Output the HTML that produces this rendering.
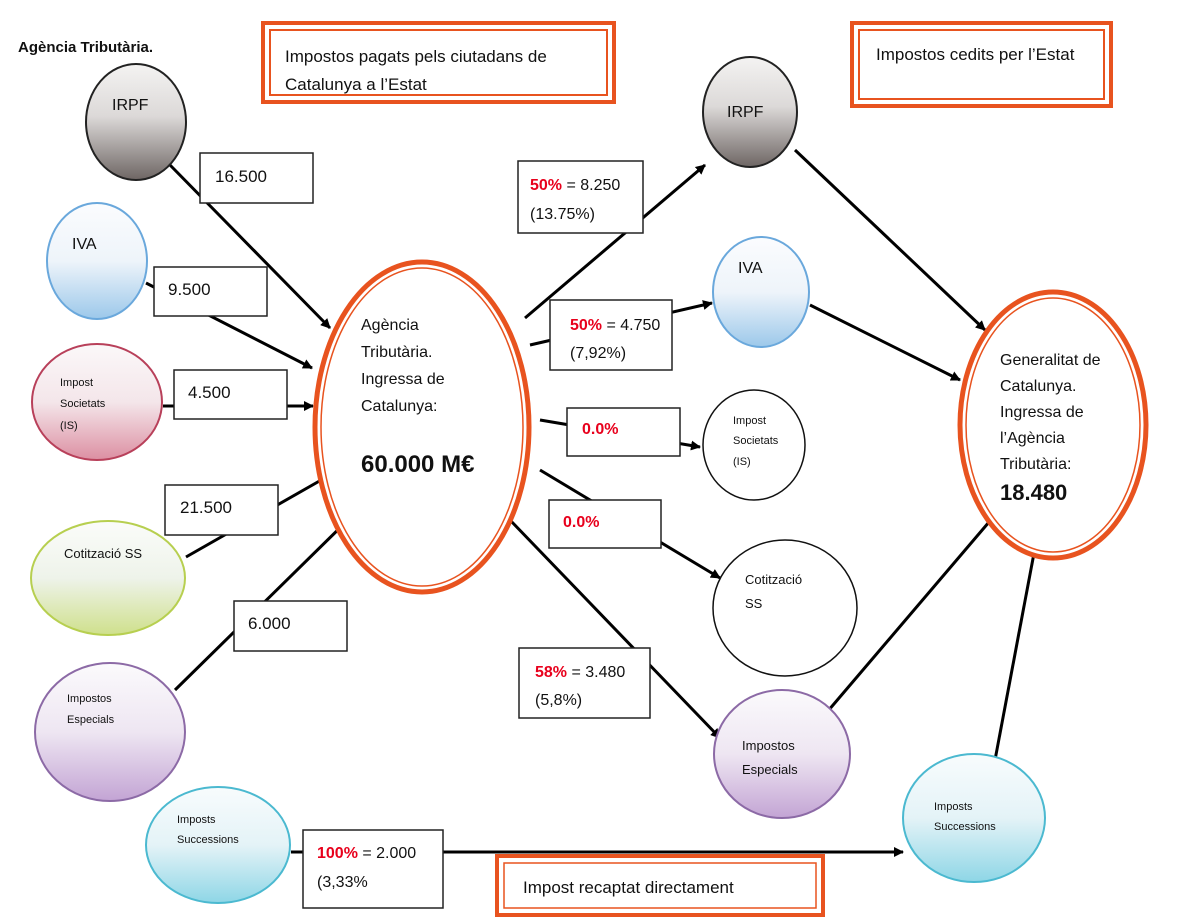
<!DOCTYPE html>
<html><head><meta charset="utf-8"><style>
body{margin:0;background:#fff}
svg{display:block}
text{font-family:"Liberation Sans","DejaVu Sans",sans-serif;fill:#111}
.r{fill:#e8001c;font-weight:bold}
</style></head><body>
<svg width="1200" height="924" viewBox="0 0 1200 924" xmlns="http://www.w3.org/2000/svg">
<defs>
<marker id="a" markerWidth="10" markerHeight="10" refX="9" refY="5" orient="auto" markerUnits="userSpaceOnUse"><path d="M0,0 L10,5 L0,10 z" fill="#000"/></marker>
<linearGradient id="gIRPF" x1="0" y1="0" x2="0" y2="1"><stop offset="0" stop-color="#f4f3f2"/><stop offset="0.45" stop-color="#dcd9d8"/><stop offset="1" stop-color="#6e6664"/></linearGradient>
<linearGradient id="gIVA" x1="0" y1="0" x2="0" y2="1"><stop offset="0" stop-color="#fbfcfe"/><stop offset="0.5" stop-color="#eef4fa"/><stop offset="1" stop-color="#9cc8ea"/></linearGradient>
<linearGradient id="gIS" x1="0" y1="0" x2="0" y2="1"><stop offset="0" stop-color="#fbf8f9"/><stop offset="0.5" stop-color="#f4e6ea"/><stop offset="1" stop-color="#dc8fa2"/></linearGradient>
<linearGradient id="gSS" x1="0" y1="0" x2="0" y2="1"><stop offset="0" stop-color="#fbfcfa"/><stop offset="0.5" stop-color="#eef3ea"/><stop offset="1" stop-color="#cfe08c"/></linearGradient>
<linearGradient id="gIE" x1="0" y1="0" x2="0" y2="1"><stop offset="0" stop-color="#fbfafc"/><stop offset="0.5" stop-color="#eee6f2"/><stop offset="1" stop-color="#c3a4d4"/></linearGradient>
<linearGradient id="gSU" x1="0" y1="0" x2="0" y2="1"><stop offset="0" stop-color="#f8fcfd"/><stop offset="0.5" stop-color="#e4f3f7"/><stop offset="1" stop-color="#8ed6e6"/></linearGradient>
</defs>

<text x="18" y="52" font-size="15" font-weight="bold">Agència Tributària.</text>

<rect x="263" y="23" width="351" height="79" fill="#fff" stroke="#e8531f" stroke-width="4"/>
<rect x="270" y="30" width="337" height="65" fill="none" stroke="#e8531f" stroke-width="2"/>
<text x="285" y="62" font-size="17">Impostos pagats pels ciutadans de</text>
<text x="285" y="90" font-size="17">Catalunya a l’Estat</text>
<rect x="852" y="23" width="259" height="83" fill="#fff" stroke="#e8531f" stroke-width="4"/>
<rect x="859" y="30" width="245" height="69" fill="none" stroke="#e8531f" stroke-width="2"/>
<text x="876" y="60" font-size="17">Impostos cedits per l’Estat</text>

<g stroke="#000" stroke-width="3" fill="none" marker-end="url(#a)">
<line x1="170" y1="165" x2="330" y2="328"/>
<line x1="146" y1="283" x2="312" y2="368"/>
<line x1="163" y1="406" x2="313" y2="406"/>
<line x1="186" y1="557" x2="330" y2="475"/>
<line x1="175" y1="690" x2="353" y2="515"/>
<line x1="525" y1="318" x2="705" y2="165"/>
<line x1="530" y1="345" x2="712" y2="303"/>
<line x1="540" y1="420" x2="700" y2="447"/>
<line x1="540" y1="470" x2="720" y2="578"/>
<line x1="510" y1="520" x2="720" y2="738"/>
<line x1="795" y1="150" x2="985" y2="330"/>
<line x1="810" y1="305" x2="960" y2="380"/>
<line x1="822" y1="718" x2="995" y2="515"/>
<line x1="995" y1="760" x2="1038" y2="532"/>
<line x1="291" y1="852" x2="903" y2="852"/>
</g>

<g stroke-width="2">
<ellipse cx="136" cy="122" rx="50" ry="58" fill="url(#gIRPF)" stroke="#222"/>
<ellipse cx="97" cy="261" rx="50" ry="58" fill="url(#gIVA)" stroke="#6aa8dc"/>
<ellipse cx="97" cy="402" rx="65" ry="58" fill="url(#gIS)" stroke="#b8405a"/>
<ellipse cx="108" cy="578" rx="77" ry="57" fill="url(#gSS)" stroke="#b7cf50"/>
<ellipse cx="110" cy="732" rx="75" ry="69" fill="url(#gIE)" stroke="#8c6aa6"/>
<ellipse cx="218" cy="845" rx="72" ry="58" fill="url(#gSU)" stroke="#4bb9d0"/>
</g>
<text x="112" y="110" font-size="16">IRPF</text>
<text x="72" y="249" font-size="16">IVA</text>
<text x="60" y="386" font-size="11">Impost</text>
<text x="60" y="407" font-size="11">Societats</text>
<text x="60" y="429" font-size="11">(IS)</text>
<text x="64" y="558" font-size="13">Cotització SS</text>
<text x="67" y="702" font-size="11">Impostos</text>
<text x="67" y="723" font-size="11">Especials</text>
<text x="177" y="823" font-size="11">Imposts</text>
<text x="177" y="843" font-size="11">Successions</text>

<g fill="#fff" stroke="#222" stroke-width="1.5">
<rect x="200" y="153" width="113" height="50"/>
<rect x="154" y="267" width="113" height="49"/>
<rect x="174" y="370" width="113" height="49"/>
<rect x="165" y="485" width="113" height="50"/>
<rect x="234" y="601" width="113" height="50"/>
<rect x="303" y="830" width="140" height="78"/>
</g>
<text x="215" y="182" font-size="17">16.500</text>
<text x="168" y="295" font-size="17">9.500</text>
<text x="188" y="398" font-size="17">4.500</text>
<text x="180" y="513" font-size="17">21.500</text>
<text x="248" y="629" font-size="17">6.000</text>
<text x="317" y="858" font-size="16"><tspan class="r">100%</tspan> = 2.000</text>
<text x="317" y="887" font-size="16">(3,33%</text>

<ellipse cx="422" cy="427" rx="107" ry="165" fill="#fff" stroke="#e8531f" stroke-width="5"/>
<ellipse cx="422" cy="427" rx="101" ry="159" fill="none" stroke="#e8531f" stroke-width="1.5"/>
<text x="361" y="330" font-size="16">Agència</text>
<text x="361" y="357" font-size="16">Tributària.</text>
<text x="361" y="384" font-size="16">Ingressa de</text>
<text x="361" y="411" font-size="16">Catalunya:</text>
<text x="361" y="472" font-size="24" font-weight="bold">60.000 M€</text>

<g fill="#fff" stroke="#222" stroke-width="1.5">
<rect x="518" y="161" width="125" height="72"/>
<rect x="550" y="300" width="122" height="70"/>
<rect x="567" y="408" width="113" height="48"/>
<rect x="549" y="500" width="112" height="48"/>
<rect x="519" y="648" width="131" height="70"/>
</g>
<text x="530" y="190" font-size="16"><tspan class="r">50%</tspan> = 8.250</text>
<text x="530" y="219" font-size="16">(13.75%)</text>
<text x="570" y="330" font-size="16"><tspan class="r">50%</tspan> = 4.750</text>
<text x="570" y="358" font-size="16">(7,92%)</text>
<text x="582" y="434" font-size="16" class="r">0.0%</text>
<text x="563" y="527" font-size="16" class="r">0.0%</text>
<text x="535" y="677" font-size="16"><tspan class="r">58%</tspan> = 3.480</text>
<text x="535" y="705" font-size="16">(5,8%)</text>

<g stroke-width="2">
<ellipse cx="750" cy="112" rx="47" ry="55" fill="url(#gIRPF)" stroke="#222"/>
<ellipse cx="761" cy="292" rx="48" ry="55" fill="url(#gIVA)" stroke="#6aa8dc"/>
<ellipse cx="754" cy="445" rx="51" ry="55" fill="#fff" stroke="#111" stroke-width="1.5"/>
<ellipse cx="785" cy="608" rx="72" ry="68" fill="#fff" stroke="#111" stroke-width="1.5"/>
<ellipse cx="782" cy="754" rx="68" ry="64" fill="url(#gIE)" stroke="#8c6aa6"/>
<ellipse cx="974" cy="818" rx="71" ry="64" fill="url(#gSU)" stroke="#4bb9d0"/>
</g>
<text x="727" y="117" font-size="16">IRPF</text>
<text x="738" y="273" font-size="16">IVA</text>
<text x="733" y="424" font-size="11">Impost</text>
<text x="733" y="444" font-size="11">Societats</text>
<text x="733" y="465" font-size="11">(IS)</text>
<text x="745" y="584" font-size="13">Cotització</text>
<text x="745" y="608" font-size="13">SS</text>
<text x="742" y="750" font-size="13">Impostos</text>
<text x="742" y="774" font-size="13">Especials</text>
<text x="934" y="810" font-size="11">Imposts</text>
<text x="934" y="830" font-size="11">Successions</text>

<ellipse cx="1053" cy="425" rx="93" ry="133" fill="#fff" stroke="#e8531f" stroke-width="5"/>
<ellipse cx="1053" cy="425" rx="87" ry="127" fill="none" stroke="#e8531f" stroke-width="1.5"/>
<text x="1000" y="365" font-size="16">Generalitat de</text>
<text x="1000" y="391" font-size="16">Catalunya.</text>
<text x="1000" y="417" font-size="16">Ingressa de</text>
<text x="1000" y="443" font-size="16">l’Agència</text>
<text x="1000" y="469" font-size="16">Tributària:</text>
<text x="1000" y="500" font-size="22" font-weight="bold">18.480</text>

<rect x="497" y="856" width="326" height="59" fill="#fff" stroke="#e8531f" stroke-width="4"/>
<rect x="504" y="863" width="312" height="45" fill="none" stroke="#e8531f" stroke-width="1.5"/>
<text x="523" y="893" font-size="17">Impost recaptat directament</text>
</svg>
</body></html>
